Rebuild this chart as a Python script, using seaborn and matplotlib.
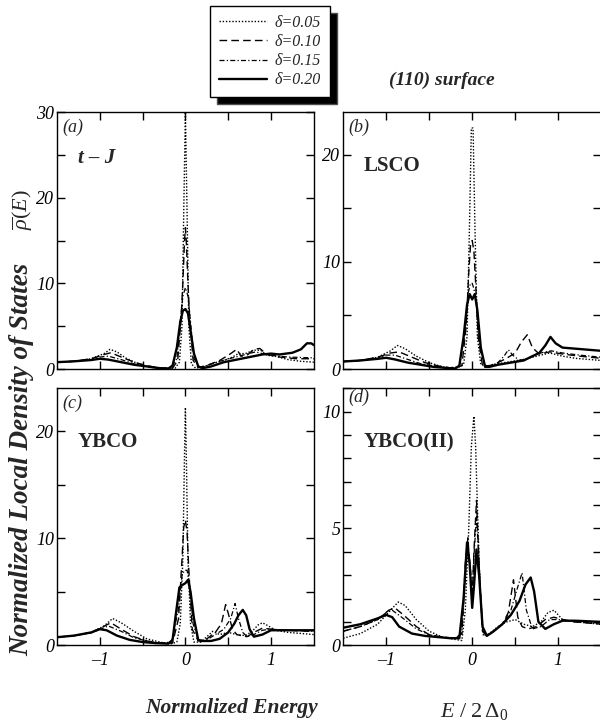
import matplotlib
matplotlib.use("Agg")
import matplotlib.pyplot as plt
import seaborn as sns
import pandas as pd
from matplotlib.lines import Line2D

sns.set_style("ticks")
plt.rcParams['font.family'] = ['Liberation Serif', 'DejaVu Serif']
plt.rcParams['mathtext.fontset'] = 'custom'
plt.rcParams['mathtext.rm'] = 'Liberation Serif'
plt.rcParams['mathtext.it'] = 'Liberation Serif:italic'

deltas = ["δ=0.05", "δ=0.10", "δ=0.15", "δ=0.20"]

# ---------------- panel (a) t-J ----------------
a05_x = [-1.5, -1.3, -1.1, -0.95, -0.88, -0.8, -0.7, -0.55, -0.4, -0.25, -0.12, -0.07, -0.04, -0.02, 0.0, 0.02, 0.04, 0.07, 0.12, 0.2, 0.3, 0.45, 0.55, 0.62, 0.7, 0.8, 0.88, 0.95, 1.05, 1.2, 1.35, 1.5]
a05_y = [0.8, 0.9, 1.2, 1.8, 2.3, 2.0, 1.3, 0.6, 0.2, 0.05, 0.1, 0.8, 5, 18, 30, 18, 5, 0.6, 0.1, 0.2, 0.6, 1.0, 1.4, 1.8, 1.8, 2.2, 2.2, 1.6, 1.5, 1.1, 0.9, 0.8]
a10_x = [-1.5, -1.3, -1.1, -0.95, -0.87, -0.75, -0.6, -0.45, -0.3, -0.15, -0.09, -0.05, -0.03, -0.01, 0.0, 0.01, 0.03, 0.05, 0.09, 0.15, 0.25, 0.4, 0.5, 0.6, 0.65, 0.72, 0.8, 0.87, 0.95, 1.1, 1.3, 1.5]
a10_y = [0.8, 0.9, 1.2, 1.7, 1.9, 1.4, 0.8, 0.4, 0.1, 0.1, 1.0, 6, 10, 15, 16.5, 15, 10, 6, 1.0, 0.2, 0.4, 1.0, 1.6, 2.3, 1.5, 1.6, 2.3, 2.4, 1.7, 1.4, 1.2, 1.2]
a15_x = [-1.5, -1.3, -1.1, -1.0, -0.9, -0.75, -0.6, -0.45, -0.3, -0.17, -0.1, -0.06, -0.03, 0.0, 0.03, 0.06, 0.1, 0.17, 0.25, 0.4, 0.55, 0.7, 0.82, 0.9, 1.0, 1.2, 1.5]
a15_y = [0.8, 0.9, 1.1, 1.4, 1.5, 1.1, 0.6, 0.3, 0.1, 0.1, 1.2, 5.5, 8.5, 9.5, 8.5, 5.5, 1.2, 0.2, 0.4, 0.9, 1.3, 1.7, 2.0, 1.8, 1.6, 1.4, 1.3]
a20_x = [-1.5, -1.3, -1.1, -1.0, -0.9, -0.75, -0.6, -0.45, -0.3, -0.2, -0.15, -0.1, -0.06, -0.03, 0.0, 0.03, 0.06, 0.1, 0.15, 0.2, 0.3, 0.45, 0.6, 0.75, 0.9, 1.0, 1.1, 1.25, 1.35, 1.42, 1.47, 1.5]
a20_y = [0.8, 0.9, 1.05, 1.2, 1.1, 0.8, 0.5, 0.3, 0.1, 0.05, 0.4, 2.5, 5.5, 6.8, 7.0, 6.5, 4.5, 1.8, 0.3, 0.1, 0.3, 0.8, 1.1, 1.4, 1.7, 1.8, 1.7, 1.9, 2.3, 3.0, 3.0, 2.8]

# ---------------- panel (b) LSCO ----------------
b05_x = [-1.5, -1.3, -1.1, -0.95, -0.87, -0.78, -0.65, -0.5, -0.35, -0.2, -0.1, -0.06, -0.03, -0.01, 0.01, 0.03, 0.06, 0.1, 0.18, 0.3, 0.45, 0.6, 0.75, 0.9, 1.05, 1.2, 1.35, 1.5]
b05_y = [0.7, 0.8, 1.1, 1.7, 2.2, 1.9, 1.2, 0.6, 0.2, 0.05, 0.4, 3, 14, 22.5, 22.5, 14, 3, 0.4, 0.3, 0.5, 0.7, 0.9, 1.2, 1.5, 1.2, 1.0, 0.9, 0.8]
b10_x = [-1.5, -1.3, -1.1, -0.95, -0.85, -0.7, -0.55, -0.4, -0.25, -0.12, -0.07, -0.04, -0.02, 0.0, 0.02, 0.04, 0.07, 0.12, 0.2, 0.3, 0.4, 0.5, 0.57, 0.64, 0.7, 0.78, 0.9, 1.05, 1.25, 1.5]
b10_y = [0.7, 0.8, 1.1, 1.5, 1.6, 1.1, 0.6, 0.3, 0.1, 0.3, 4, 9, 11.5, 12, 11, 8, 3, 0.3, 0.3, 0.6, 1.0, 1.5, 2.5, 3.2, 2.0, 1.4, 1.6, 1.4, 1.2, 1.0]
b15_x = [-1.5, -1.3, -1.1, -1.0, -0.9, -0.75, -0.6, -0.45, -0.3, -0.15, -0.08, -0.05, -0.02, 0.0, 0.02, 0.05, 0.08, 0.15, 0.22, 0.3, 0.37, 0.42, 0.47, 0.55, 0.65, 0.75, 0.85, 0.92, 1.05, 1.25, 1.5]
b15_y = [0.7, 0.8, 1.0, 1.3, 1.3, 0.9, 0.5, 0.3, 0.1, 0.2, 3.5, 7, 8, 8, 7.5, 6, 2.5, 0.3, 0.3, 0.6, 1.2, 1.8, 1.3, 0.8, 1.0, 1.4, 1.6, 1.7, 1.5, 1.3, 1.1]
b20_x = [-1.5, -1.3, -1.1, -1.0, -0.9, -0.75, -0.6, -0.45, -0.3, -0.2, -0.15, -0.1, -0.06, -0.03, 0.0, 0.03, 0.06, 0.1, 0.15, 0.2, 0.3, 0.45, 0.6, 0.7, 0.78, 0.85, 0.91, 0.97, 1.05, 1.2, 1.35, 1.5]
b20_y = [0.7, 0.8, 0.95, 1.05, 0.9, 0.6, 0.4, 0.2, 0.1, 0.05, 0.3, 3, 6, 7, 6.5, 7, 5.5, 2, 0.2, 0.2, 0.4, 0.6, 0.8, 1.2, 1.5, 2.2, 3.0, 2.4, 2.0, 1.9, 1.8, 1.7]

# ---------------- panel (c) YBCO ----------------
c05_x = [-1.5, -1.3, -1.1, -0.95, -0.85, -0.75, -0.6, -0.45, -0.3, -0.18, -0.1, -0.06, -0.03, -0.01, 0.0, 0.01, 0.03, 0.06, 0.1, 0.18, 0.25, 0.32, 0.4, 0.5, 0.6, 0.7, 0.78, 0.85, 0.9, 0.97, 1.05, 1.2, 1.35, 1.5]
c05_y = [0.75, 0.9, 1.2, 1.8, 2.5, 2.1, 1.3, 0.6, 0.3, 0.1, 0.3, 2, 8, 18, 22.2, 18, 8, 2, 0.3, 0.3, 0.8, 1.3, 1.0, 1.2, 1.0, 0.9, 1.3, 1.9, 2.1, 1.8, 1.4, 1.2, 1.1, 1.0]
c10_x = [-1.5, -1.3, -1.1, -0.97, -0.87, -0.75, -0.6, -0.45, -0.3, -0.15, -0.08, -0.04, -0.02, 0.0, 0.02, 0.04, 0.08, 0.15, 0.25, 0.35, 0.42, 0.47, 0.5, 0.55, 0.6, 0.65, 0.72, 0.8, 0.9, 1.0, 1.2, 1.5]
c10_y = [0.75, 0.9, 1.2, 1.7, 2.1, 1.5, 0.8, 0.4, 0.2, 0.2, 2.5, 8, 11, 11.7, 10.5, 7, 1.5, 0.4, 0.6, 1.2, 2.0, 3.8, 3.0, 1.5, 1.0, 0.9, 0.8, 1.2, 1.6, 1.5, 1.4, 1.3]
c15_x = [-1.5, -1.3, -1.1, -1.0, -0.9, -0.75, -0.6, -0.45, -0.3, -0.16, -0.08, -0.04, -0.01, 0.02, 0.05, 0.09, 0.16, 0.25, 0.35, 0.45, 0.53, 0.58, 0.62, 0.67, 0.72, 0.8, 0.9, 1.0, 1.2, 1.5]
c15_y = [0.75, 0.9, 1.15, 1.5, 1.8, 1.3, 0.7, 0.4, 0.2, 0.3, 3.5, 6.5, 7.0, 7.0, 5.5, 2, 0.3, 0.5, 1.0, 1.5, 2.5, 3.9, 2.5, 1.2, 0.8, 1.0, 1.4, 1.5, 1.4, 1.3]
c20_x = [-1.5, -1.3, -1.1, -1.0, -0.92, -0.8, -0.65, -0.5, -0.35, -0.2, -0.15, -0.11, -0.07, -0.04, 0.0, 0.03, 0.06, 0.1, 0.15, 0.2, 0.3, 0.4, 0.5, 0.57, 0.62, 0.67, 0.71, 0.75, 0.8, 0.9, 1.0, 1.2, 1.5]
c20_y = [0.75, 0.9, 1.2, 1.5, 1.4, 0.9, 0.5, 0.3, 0.2, 0.15, 0.5, 3, 5.4, 5.6, 5.8, 6.1, 5, 2.5, 0.5, 0.4, 0.4, 0.6, 1.2, 2.0, 2.8, 3.3, 2.8, 1.5, 0.8, 1.0, 1.4, 1.4, 1.4]

# ---------------- panel (d) YBCO(II) ----------------
d05_x = [-1.5, -1.3, -1.1, -0.95, -0.86, -0.78, -0.65, -0.5, -0.35, -0.2, -0.12, -0.08, -0.04, -0.01, 0.02, 0.04, 0.06, 0.09, 0.13, 0.2, 0.3, 0.4, 0.5, 0.6, 0.7, 0.8, 0.88, 0.95, 1.05, 1.2, 1.5]
d05_y = [0.3, 0.5, 0.9, 1.5, 1.85, 1.7, 1.1, 0.6, 0.35, 0.25, 0.2, 1.5, 5, 8.5, 9.8, 8.5, 6, 2.5, 0.4, 0.5, 0.8, 1.0, 1.1, 0.9, 0.8, 1.0, 1.4, 1.5, 1.1, 1.0, 0.9]
d10_x = [-1.5, -1.3, -1.1, -0.97, -0.9, -0.8, -0.65, -0.5, -0.35, -0.2, -0.12, -0.08, -0.05, -0.02, 0.0, 0.02, 0.05, 0.08, 0.12, 0.17, 0.25, 0.35, 0.42, 0.48, 0.53, 0.58, 0.65, 0.75, 0.85, 0.95, 1.05, 1.2, 1.5]
d10_y = [0.6, 0.8, 1.1, 1.5, 1.6, 1.3, 0.8, 0.45, 0.35, 0.3, 0.5, 3.5, 4.6, 3.0, 2.0, 4.0, 6.2, 3.5, 0.6, 0.4, 0.6, 0.9, 1.4, 2.8, 1.2, 0.8, 0.7, 0.8, 1.1, 1.2, 1.1, 1.0, 0.9]
d15_x = [-1.5, -1.3, -1.1, -1.0, -0.93, -0.82, -0.65, -0.5, -0.35, -0.2, -0.12, -0.08, -0.05, -0.02, 0.0, 0.02, 0.05, 0.08, 0.12, 0.17, 0.25, 0.35, 0.45, 0.53, 0.58, 0.63, 0.7, 0.8, 0.9, 1.0, 1.2, 1.5]
d15_y = [0.6, 0.8, 1.1, 1.4, 1.5, 1.2, 0.7, 0.45, 0.35, 0.3, 0.5, 3.0, 4.3, 3.3, 2.2, 3.8, 5.5, 3.5, 0.6, 0.4, 0.6, 0.9, 1.5, 2.5, 3.1, 1.5, 0.7, 0.8, 1.1, 1.1, 1.0, 0.95]
d20_x = [-1.5, -1.3, -1.1, -1.0, -0.93, -0.85, -0.7, -0.55, -0.4, -0.25, -0.15, -0.1, -0.06, -0.03, 0.0, 0.02, 0.05, 0.08, 0.12, 0.17, 0.25, 0.35, 0.45, 0.55, 0.62, 0.68, 0.72, 0.77, 0.85, 0.95, 1.05, 1.2, 1.5]
d20_y = [0.75, 0.9, 1.15, 1.3, 1.2, 0.8, 0.5, 0.4, 0.35, 0.3, 0.3, 2.0, 4.4, 3.5, 1.6, 2.5, 4.1, 3.0, 0.8, 0.4, 0.6, 0.9, 1.3, 1.9, 2.6, 2.9, 2.3, 1.0, 0.7, 0.9, 1.05, 1.05, 1.0]

panel_tags = ["(a)", "(b)", "(c)", "(d)"]
panel_names = ["t – J", "LSCO", "YBCO", "YBCO(II)"]
y_limits = [30, 24, 24, 11]
y_tick_labels = [[0, 10, 20, 30], [0, 10, 20], [0, 10, 20], [0, 5, 10]]
y_minor_step = [5, 5, 5, 1]
x_tick_labels = [-1, 0, 1]

curves = [
    [(a05_x, a05_y), (a10_x, a10_y), (a15_x, a15_y), (a20_x, a20_y)],
    [(b05_x, b05_y), (b10_x, b10_y), (b15_x, b15_y), (b20_x, b20_y)],
    [(c05_x, c05_y), (c10_x, c10_y), (c15_x, c15_y), (c20_x, c20_y)],
    [(d05_x, d05_y), (d10_x, d10_y), (d15_x, d15_y), (d20_x, d20_y)],
]

dash_map = {deltas[0]: (1, 1.3), deltas[1]: (5.5, 3), deltas[2]: (4, 1.8, 1, 1.8), deltas[3]: ""}
size_map = {deltas[0]: 1.0, deltas[1]: 1.0, deltas[2]: 0.9, deltas[3]: 1.7}

fig = plt.figure(figsize=(6, 7.25), dpi=100)
positions = [[0.095, 0.491, 0.428, 0.3545], [0.572, 0.491, 0.43, 0.3545],
             [0.095, 0.110, 0.428, 0.3545], [0.572, 0.110, 0.43, 0.3545]]
tag_y = [0.975, 0.975, 0.975, 1.0]

for i in range(4):
    ax = fig.add_axes(positions[i])
    rows = []
    for k, (xs, ys) in enumerate(curves[i]):
        for xv, yv in zip(xs, ys):
            rows.append({"E": xv, "rho": yv, "delta": deltas[k]})
    df = pd.DataFrame(rows)
    sns.lineplot(data=df, x="E", y="rho", style="delta", size="delta",
                 dashes=dash_map, sizes=size_map, color="black",
                 estimator=None, sort=False, legend=False, ax=ax)
    ax.set_xlim(-1.5, 1.5)
    ax.set_ylim(0, y_limits[i])
    ax.set_xlabel("")
    ax.set_ylabel("")
    xt = [-1, -0.5, 0, 0.5, 1]
    ax.set_xticks(xt)
    if i >= 2:
        ax.set_xticklabels(["–1" if v == -1 else (str(int(v)) if v in x_tick_labels else "") for v in xt])
    else:
        ax.set_xticklabels([])
    step = y_minor_step[i]
    yt = []
    v = 0
    while v <= y_limits[i] + 1e-9:
        yt.append(v)
        v += step
    ax.set_yticks(yt)
    ax.set_yticklabels([str(int(v)) if v in y_tick_labels[i] else "" for v in yt])
    ax.tick_params(direction="in", length=6, width=1, top=True, right=True,
                   labelsize=13, pad=2, colors="black")
    ax.tick_params(axis="x", pad=5)
    for lab in ax.get_xticklabels() + ax.get_yticklabels():
        lab.set_fontstyle("italic")
    for sp in ax.spines.values():
        sp.set_linewidth(1.0)
        sp.set_color("black")
    ax.text(0.02, tag_y[i], panel_tags[i], transform=ax.transAxes, ha="left", va="top",
            fontsize=13, fontstyle="italic")
    if i == 0:
        ax.text(0.08, 0.82, panel_names[i], transform=ax.transAxes, ha="left", va="center",
                fontsize=15, fontweight="bold", fontstyle="italic")
    else:
        ax.text(0.08, 0.79, panel_names[i], transform=ax.transAxes, ha="left", va="center",
                fontsize=15, fontweight="bold")

# figure texts
fig.text(22 / 600, 1 - 459 / 725, "Normalized Local Density of States", rotation=90,
         ha="center", va="center", fontsize=19.5, fontweight="bold", fontstyle="italic")
fig.text(22.5 / 600, 1 - 210 / 725, r"$\overline{\rho}(E)$", rotation=90,
         ha="center", va="center", fontsize=16)
fig.text(232 / 600, 1 - 708 / 725, "Normalized Energy", ha="center", va="center",
         fontsize=15.5, fontweight="bold", fontstyle="italic")
fig.text(474 / 600, 1 - 711 / 725, r"$E\ /\ 2\,\Delta_0$", ha="center", va="center",
         fontsize=16)
fig.text(442 / 600, 1 - 80 / 725, "(110) surface", ha="center", va="center",
         fontsize=14, fontweight="bold", fontstyle="italic")

handles = [Line2D([], [], color="black", lw=size_map[d], dashes=dash_map[d])
           for d in deltas[:3]]
handles.append(Line2D([], [], color="black", lw=1.7, linestyle="-"))
leg = fig.legend(handles, deltas, loc="upper right", bbox_to_anchor=(330 / 600, 1 - 6 / 725),
                 frameon=True, fancybox=False, edgecolor="black", framealpha=1,
                 shadow={"ox": 5, "oy": -5, "facecolor": "black", "alpha": 1},
                 handlelength=3.0, handletextpad=0.5, labelspacing=0.2,
                 borderpad=0.55, borderaxespad=0,
                 prop={"family": "Liberation Serif", "style": "italic", "size": 11.5})
leg.get_frame().set_linewidth(1.0)

fig.savefig("out.png", dpi=100)
